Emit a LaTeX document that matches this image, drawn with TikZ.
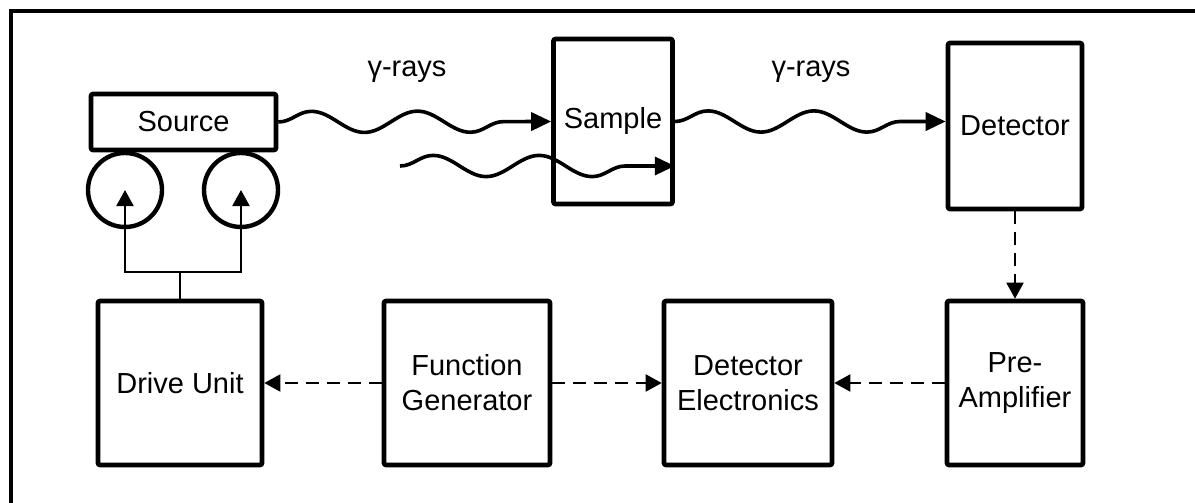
\documentclass[tikz,border=0pt]{standalone}
\usepackage{fontspec}
\setmainfont{Liberation Sans}
\usetikzlibrary{arrows.meta,decorations.pathmorphing}

\begin{document}
\begin{tikzpicture}[x=0.5pt,y=-0.5pt,
    >={Triangle[length=8pt,width=8.5pt]},
    block/.style={draw, line width=2.3pt, rounded corners=1pt, align=center,
        font=\fontsize{14.5}{17.5}\selectfont, inner sep=0pt},
    wheel/.style={draw, circle, line width=2.2pt, minimum size=37pt, inner sep=0pt},
    ray/.style={-{Triangle[length=10pt,width=9pt]}, line width=1.8pt, decorate,
        decoration={snake, amplitude=5.3pt, segment length=53pt, post length=7pt}},
    signal/.style={->, line width=1pt, dash pattern=on 6.5pt off 4pt},
    feed/.style={->, line width=1pt}]
    \useasboundingbox (0,0) rectangle (1195,503);
    \clip (0,0) rectangle (1195,503);
    \draw[line width=2.4pt] (11,11) rectangle (1230,540);

    % source on its two wheels
    \node[block, minimum width=92.5pt, minimum height=28pt] (source) at (183.5,122) {Source};
    \node[wheel] (lwheel) at (125,190) {};
    \node[wheel] (rwheel) at (241,190) {};

    \node[block, minimum width=59.5pt, minimum height=82.5pt] (sample) at (613,121.5) {Sample};
    \node[block, minimum width=67pt, minimum height=83pt] (detector) at (1015,126) {Detector};

    % lower row
    \node[block, minimum width=82pt, minimum height=82pt] (drive) at (180,383) {Drive Unit};
    \node[block, minimum width=83pt, minimum height=82pt] (funcgen) at (467,383) {Function\\Generator};
    \node[block, minimum width=84pt, minimum height=82pt] (detelec) at (748,383) {Detector\\Electronics};
    \node[block, minimum width=68pt, minimum height=82pt] (preamp) at (1015,383) {Pre-\\Amplifier};

    \node[font=\fontsize{14.5}{17.5}\selectfont] (rays1) at (407,72) {γ-rays};
    \node[font=\fontsize{14.5}{17.5}\selectfont] (rays2) at (811,72) {γ-rays};

    % gamma rays
    \draw[ray] (source.east) -- (sample.west);
    \coordinate (stray) at (400,166);
    \draw[ray] (stray) -- (stray -| sample.east);
    \draw[ray] (sample.east) -- (sample.east -| detector.west);

    % drive unit to the wheels
    \coordinate (tee) at (180,272);
    \draw[line width=1pt] (drive.north) -- (tee);
    \draw[feed] (tee) -| (lwheel.center);
    \draw[feed] (tee) -| (rwheel.center);

    % signals
    \draw[signal] (detector.south) -- (preamp.north);
    \draw[signal] (preamp.west) -- (detelec.east);
    \draw[signal] (funcgen.east) -- (detelec.west);
    \draw[signal] (funcgen.west) -- (drive.east);
\end{tikzpicture}
\end{document}
